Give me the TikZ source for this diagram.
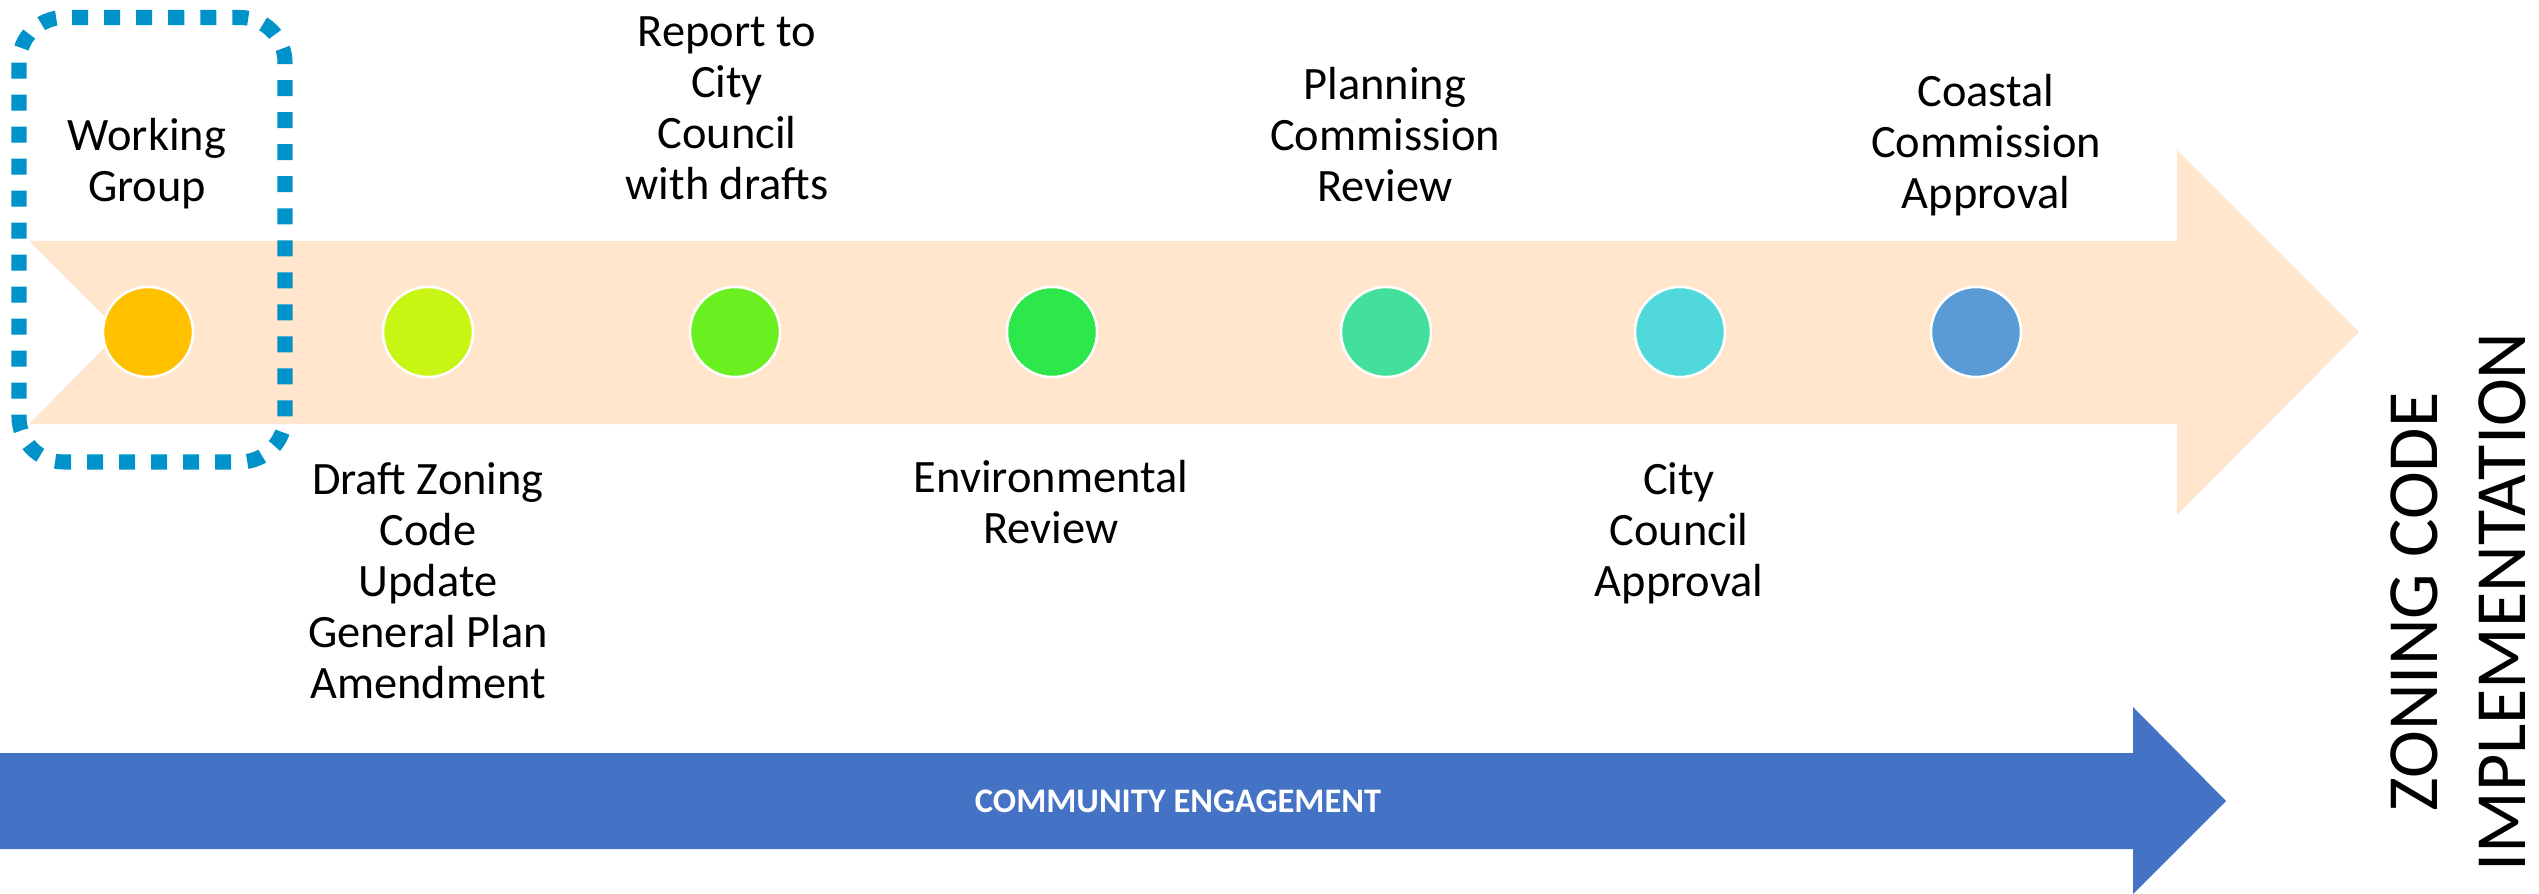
\documentclass[tikz,border=0pt]{standalone}
\usepackage{fontspec}
\setmainfont{Carlito}
\usetikzlibrary{positioning}
\definecolor{peach}{HTML}{FFE6CC}
\definecolor{engageblue}{HTML}{4472C4}
\definecolor{boxblue}{HTML}{0093C9}
\definecolor{dotA}{HTML}{FFC000}
\definecolor{dotB}{HTML}{C8F514}
\definecolor{dotC}{HTML}{6AEF21}
\definecolor{dotD}{HTML}{2DE84A}
\definecolor{dotE}{HTML}{43E09B}
\definecolor{dotF}{HTML}{50D8DB}
\definecolor{dotG}{HTML}{5B9BD5}
\begin{document}
\begin{tikzpicture}[x=0.01cm,y=-0.01cm]
  \tikzstyle{dot}=[circle,draw=white,line width=0.025cm,minimum size=0.9cm,inner sep=0pt]
  \tikzstyle{milestone}=[align=center,inner sep=0pt,font=\fontsize{13.2}{14.5}\selectfont]
  \useasboundingbox (0,0) rectangle (2539,894);
  \fill[peach] (29,241) -- (2177,241) -- (2177,150) -- (2359,332) -- (2177,515)
    -- (2177,424) -- (29,424) -- (120,332) -- cycle;
  \fill[engageblue] (0,753) -- (2133,753) -- (2133,707) -- (2226,801) -- (2133,894)
    -- (2133,849) -- (0,849) -- cycle;
  \foreach \x/\c [count=\i] in {148/dotA,428/dotB,735/dotC,1052/dotD,1386/dotE,1680/dotF,1976/dotG}
    \node[dot,fill=\c] (c\i) at (\x,332) {};
  \node[milestone,anchor=south] (working) at (147,210) {Working\\Group};
  \node[milestone,anchor=south] (report) at (727,201) {Report to\\City\\Council\\with drafts};
  \node[milestone,anchor=south] (planning) at (1385,203) {Planning\\Commission\\Review};
  \node[milestone,anchor=south] (coastal) at (1986,217) {Coastal\\Commission\\Approval};
  \node[milestone,anchor=north] (draft) at (428,462) {Draft Zoning\\Code\\Update\\General Plan\\Amendment};
  \node[milestone,anchor=north] (envreview) at (1051,460) {Environmental\\Review};
  \node[milestone,anchor=north] (council) at (1679,462) {City\\Council\\Approval};
  \draw[boxblue,line width=0.15cm,dash pattern=on 0.16cm off 0.16cm,rounded corners=0.45cm]
    (19,17.5) rectangle (285,462);
  \node[text=white,font=\bfseries\fontsize{9.8}{11}\selectfont] (engage) at (1178,801) {COMMUNITY ENGAGEMENT};
  \node[rotate=90,align=center,inner sep=0pt,font=\fontsize{20.5}{25}\selectfont] (impl)
    at (2458,602) {ZONING CODE\\IMPLEMENTATION};
\end{tikzpicture}
\end{document}
